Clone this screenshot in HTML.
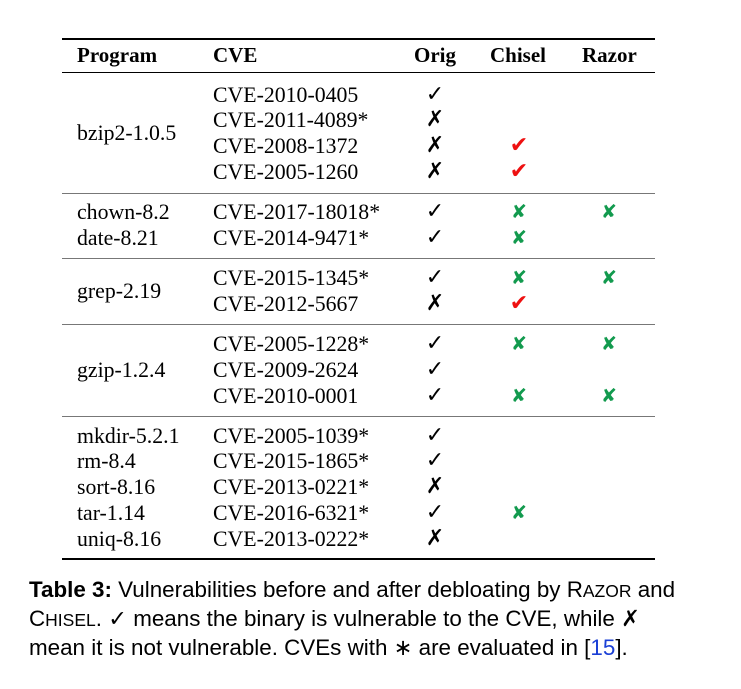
<!DOCTYPE html>
<html><head><meta charset="utf-8"><style>
body{margin:0;width:741px;height:689px;background:#fff;position:relative;font-family:"Liberation Serif",serif;color:#000;overflow:hidden}
.t{position:absolute;font-size:21.8px;line-height:24px;white-space:nowrap}
.h{font-weight:bold;top:43px;font-size:21px}
.r{position:absolute;left:62px;width:593px;background:#000}
.m{position:absolute;font-family:"DejaVu Sans",sans-serif;font-size:22px;font-weight:bold;line-height:24px;width:30px;text-align:center}
.red{color:#ee1111}.grn{color:#129a4e;font-size:19px}
.cap{position:absolute;left:29px;font-family:"Liberation Sans",sans-serif;font-size:22.4px;line-height:29px;white-space:nowrap}
.sym{font-family:"DejaVu Sans",sans-serif;font-weight:bold}
</style></head><body>
<div class="r" style="top:38px;height:2px"></div>
<div class="t h" style="left:77px">Program</div>
<div class="t h" style="left:213px">CVE</div>
<div class="t h" style="left:414px">Orig</div>
<div class="t h" style="left:490px">Chisel</div>
<div class="t h" style="left:582px">Razor</div>
<div class="r" style="top:72px;height:1px"></div>
<div id="rows"></div>
<div class="r" style="top:558px;height:2px"></div>
<div class="cap" style="top:575px"><b>Table 3:</b> Vulnerabilities before and after debloating by R<span style="font-size:17.5px">AZOR</span> and</div>
<div class="cap" style="top:604px">C<span style="font-size:17.5px">HISEL</span>. <span class="sym">✓</span> means the binary is vulnerable to the CVE, while <span class="sym">✗</span></div>
<div class="cap" style="top:633px">mean it is not vulnerable. CVEs with ∗ are evaluated in [<span style="color:#1a3fd6">15</span>].</div>
<script>
const programs=[["bzip2-1.0.5",133],["chown-8.2",212],["date-8.21",238],["grep-2.19",291],["gzip-1.2.4",370],["mkdir-5.2.1",436],["rm-8.4",461],["sort-8.16",487],["tar-1.14",513],["uniq-8.16",539]];
const cves=[["CVE-2010-0405",95,"y","",""],["CVE-2011-4089*",120,"n","",""],["CVE-2008-1372",146,"n","r",""],["CVE-2005-1260",172,"n","r",""],
["CVE-2017-18018*",212,"y","g","g"],["CVE-2014-9471*",238,"y","g",""],["CVE-2015-1345*",278,"y","g","g"],["CVE-2012-5667",304,"n","r",""],
["CVE-2005-1228*",344,"y","g","g"],["CVE-2009-2624",370,"y","",""],["CVE-2010-0001",396,"y","g","g"],
["CVE-2005-1039*",436,"y","",""],["CVE-2015-1865*",461,"y","",""],["CVE-2013-0221*",487,"n","",""],["CVE-2016-6321*",513,"y","g",""],["CVE-2013-0222*",539,"n","",""]];
const rules=[193,258,324,416];
const R=document.getElementById('rows');
function add(cls,txt,x,y,name){const d=document.createElement('div');d.className=cls;d.textContent=txt;d.style.left=x+'px';d.style.top=(y-12)+'px';


R.appendChild(d);}
programs.forEach(p=>add('t',p[0],77,p[1],'program-'+p[0]));
cves.forEach(c=>{add('t',c[0],213,c[1],'cve-'+c[0]);
add('m',c[2]=='y'?'✓':'✗',420,c[1],'orig-mark');
if(c[3])add('m '+(c[3]=='r'?'red':'grn'),c[3]=='r'?'✔':'✘',504,c[1],'chisel-mark');
if(c[4])add('m grn','✘',594,c[1],'razor-mark');});
rules.forEach(y=>{const d=document.createElement('div');d.className='r';d.style.top=y+'px';d.style.height='1px';d.style.background='#777';


R.appendChild(d);});
</script>
</body></html>
